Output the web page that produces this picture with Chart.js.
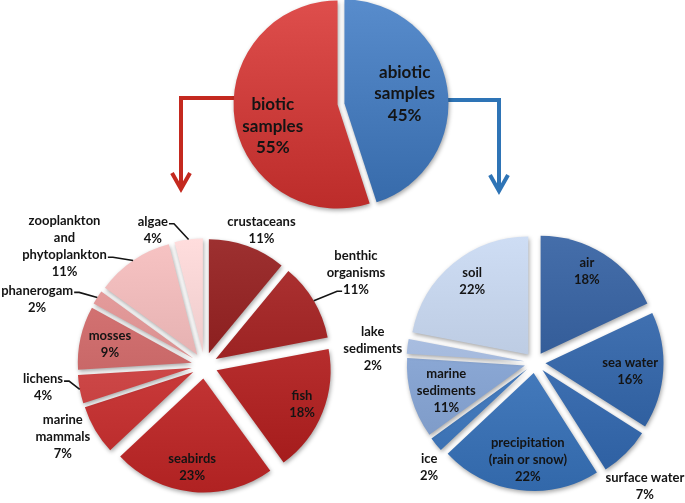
<!DOCTYPE html>
<html lang="en">
<head>
<meta charset="UTF-8">
<title>Biotic and abiotic samples</title>
<style>
  html, body { margin: 0; padding: 0; background: #fff; }
  #wrap { position: relative; width: 685px; height: 503px; overflow: hidden; }
  #wrap canvas, #wrap svg { position: absolute; left: 0; top: 0; }
</style>
</head>
<body>
<div id="wrap">
  <svg width="685" height="503">
    <g fill="none" stroke-width="4">
      <polyline points="240,98 181,98 181,186" stroke="#c4291f"/>
      <polyline points="172,173 181,189 190,173" stroke="#c4291f"/>
      <polyline points="445,100 499,100 499,188" stroke="#2e74b6"/>
      <polyline points="490,175 499,191 508,175" stroke="#2e74b6"/>
    </g>
  </svg>
  <canvas id="topChart" width="685" height="503"></canvas>
  <canvas id="bioChart" width="685" height="503"></canvas>
  <canvas id="abioChart" width="685" height="503"></canvas>
</div>

<script src="https://cdn.jsdelivr.net/npm/chart.js@4.4.0/dist/chart.umd.min.js"></script>
<script>
// ---- data ----
const topCategories = [['abiotic', 'samples'], ['biotic', 'samples']];
const topValues = [45, 55];

const bioticCategories = ['crustaceans', ['benthic', 'organisms'], 'fish', 'seabirds',
  ['marine', 'mammals'], 'lichens', 'mosses', 'phanerogam',
  ['zooplankton', 'and', 'phytoplankton'], 'algae'];
const bioticValues = [11, 11, 18, 23, 7, 4, 9, 2, 11, 4];

const abioticCategories = ['air', 'sea water', 'surface water', ['precipitation', '(rain or snow)'],
  'ice', ['marine', 'sediments'], ['lake', 'sediments'], 'soil'];
const abioticValues = [18, 16, 7, 22, 2, 11, 2, 22];

// ---- colours ----
const topColors = [[74, 126, 190], [208, 64, 62]];
const bioticColors = [[143, 34, 34], [160, 38, 38], [182, 45, 45], [196, 54, 54], [203, 60, 60],
  [208, 74, 74], [205, 108, 108], [221, 148, 148], [233, 181, 181], [241, 207, 207]];
const abioticColors = [[55, 96, 156], [60, 108, 172], [64, 114, 180], [70, 124, 190], [74, 128, 194],
  [140, 169, 214], [168, 189, 224], [192, 207, 230]];

// ---- label placement: [radius factor, angle shift in degrees, leader line] ----
const topPlace = [[0.62, 0, null], [0.69, -9, null]];
const bioticPlace = [
  [1.29, 3, null], [1.56, -1, {line: 2, side: 'left'}], [0.92, 0, null], [0.90, 1.5, null],
  [1.39, 4, null], [1.43, 3, {line: 0, side: 'right'}], [0.85, 0, null],
  [1.58, -10.7, {line: 0, side: 'right'}], [1.61, -15.5, {line: 2, side: 'right'}],
  [1.27, -13.7, {line: 0, side: 'right'}]
];
const abioticPlace = [
  [0.89, -2.8, null], [0.81, 1.8, null], [1.40, 3.3, null], [0.83, -3, null],
  [1.26, -5, null], [0.79, -1.6, null], [1.38, -2.4, null], [0.87, 1.9, null]
];

const W = 685, H = 503;

function rgb(c, d) {
  d = d || 0;
  const f = v => Math.max(0, Math.min(255, Math.round(v + d)));
  return 'rgb(' + f(c[0]) + ',' + f(c[1]) + ',' + f(c[2]) + ')';
}

function shadeFill(c, colors, radius) {
  const base = colors[c.dataIndex];
  const area = c.chart.chartArea;
  if (!area) return rgb(base);
  const cy = (area.top + area.bottom) / 2;
  const g = c.chart.ctx.createLinearGradient(0, cy - radius, 0, cy + radius);
  g.addColorStop(0, rgb(base, 14));
  g.addColorStop(1, rgb(base, -20));
  return g;
}

// soft drop shadow under the slices
const shadow = {
  id: 'shadow',
  beforeDatasetsDraw(chart) {
    const ctx = chart.ctx;
    ctx.save();
    ctx.shadowColor = 'rgba(0,0,0,0.35)';
    ctx.shadowBlur = 4;
    ctx.shadowOffsetX = 1;
    ctx.shadowOffsetY = 2;
  },
  afterDatasetsDraw(chart) {
    chart.ctx.restore();
  }
};

// Chart.js grows small exploded slices and trims their angle; undo that so
// every slice keeps the same radius and a plain explode
const explodeFix = {
  id: 'explodeFix',
  afterDatasetUpdate(chart, args) {
    args.meta.data.forEach(arc => {
      arc.$base = {r: arc.outerRadius, s: arc.startAngle, e: arc.endAngle};
    });
  },
  beforeDatasetDraw(chart, args) {
    args.meta.data.forEach(arc => {
      const b = arc.$base;
      if (!b) return;
      const off = (arc.options.offset || 0) / 4;
      const ro = off * (1 - Math.sin(Math.min(Math.PI, arc.circumference)));
      const widen = ro / Math.PI / b.r / 2;
      arc.outerRadius = b.r - ro;
      arc.startAngle = b.s - widen;
      arc.endAngle = b.e + widen;
    });
  }
};

const sliceLabels = {
  id: 'sliceLabels',
  afterDatasetsDraw(chart, args, opts) {
    const ctx = chart.ctx;
    const meta = chart.getDatasetMeta(0);
    const values = chart.data.datasets[0].data;
    ctx.save();
    ctx.font = opts.font;
    ctx.fillStyle = '#141414';
    ctx.strokeStyle = '#141414';
    ctx.lineWidth = 1.6;
    ctx.textAlign = 'center';
    ctx.textBaseline = 'middle';
    meta.data.forEach((arc, i) => {
      const b = arc.$base;
      const mid = (b.s + b.e) / 2;
      const p = opts.place[i];
      const a = mid + p[1] * Math.PI / 180;
      const x = arc.x + Math.cos(a) * p[0] * b.r;
      const y = arc.y + Math.sin(a) * p[0] * b.r;
      const lines = [].concat(chart.data.labels[i], values[i] + '%');
      const y0 = y - (lines.length - 1) * opts.lineHeight / 2;
      lines.forEach((t, j) => ctx.fillText(t, x, y0 + j * opts.lineHeight));
      const leader = p[2];
      if (leader) {
        const w = ctx.measureText(lines[leader.line]).width;
        const ly = y0 + leader.line * opts.lineHeight + 2;
        const dir = leader.side === 'right' ? 1 : -1;
        const lx = x + dir * (w / 2 + 1);
        const off = (arc.options.offset || 0) / 4;
        const ex = arc.x + Math.cos(mid) * (b.r + off);
        const ey = arc.y + Math.sin(mid) * (b.r + off);
        ctx.beginPath();
        ctx.moveTo(lx, ly);
        ctx.lineTo(lx + dir * 5, ly);
        ctx.lineTo(ex, ey);
        ctx.stroke();
      }
    });
    ctx.restore();
  }
};

function makePie(id, labels, values, colors, place, cfg) {
  const a = Math.min(cfg.cx, W - cfg.cx);
  const b = Math.min(cfg.cy, H - cfg.cy);
  return new Chart(document.getElementById(id), {
    type: 'pie',
    data: {
      labels: labels,
      datasets: [{
        data: values,
        backgroundColor: c => shadeFill(c, colors, cfg.radius),
        borderWidth: 0,
        offset: cfg.offset
      }]
    },
    options: {
      responsive: false,
      animation: false,
      events: [],
      radius: cfg.radius,
      layout: {
        padding: {left: cfg.cx - a, right: W - cfg.cx - a, top: cfg.cy - b, bottom: H - cfg.cy - b}
      },
      plugins: {
        legend: {display: false},
        tooltip: {enabled: false},
        sliceLabels: {place: place, font: cfg.font, lineHeight: cfg.lineHeight}
      }
    },
    plugins: [shadow, explodeFix, sliceLabels]
  });
}

makePie('topChart', topCategories, topValues, topColors, topPlace,
  {cx: 341, cy: 104, radius: 104, offset: 14, font: 'bold 17px Lato', lineHeight: 21.5});
makePie('bioChart', bioticCategories, bioticValues, bioticColors, bioticPlace,
  {cx: 204.5, cy: 365.5, radius: 114, offset: 52, font: 'bold 13px Lato', lineHeight: 17});
makePie('abioChart', abioticCategories, abioticValues, abioticColors, abioticPlace,
  {cx: 535, cy: 362.5, radius: 118, offset: 42, font: 'bold 13px Lato', lineHeight: 17});
</script>
</body>
</html>
